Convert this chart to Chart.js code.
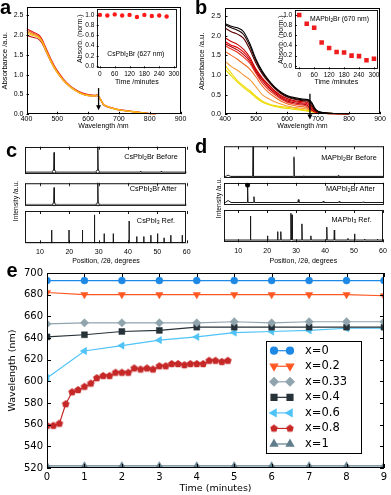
<!DOCTYPE html>
<html>
<head>
<meta charset="utf-8">
<script src="https://cdn.jsdelivr.net/npm/chart.js@4.4.1/dist/chart.umd.min.js"></script>
<style>
  html, body { margin: 0; padding: 0; background: #fff; }
  body { position: relative; width: 391px; height: 495px; overflow: hidden; font-family: "Liberation Sans", Arial, sans-serif; }
  .t { position: absolute; white-space: nowrap; line-height: 1; color: #000; }
  .t sub { font-size: 70%; vertical-align: -0.25em; line-height: 0; }
  .rot { transform: translate(-50%, -50%) rotate(-90deg); }
  .big { font-weight: bold; }
  canvas { position: absolute; }
</style>
</head>
<body>
<script>
// ---------------- data ----------------

// a : CsPbI2Br absorbance (a.u.) vs wavelength (nm)
const wlA = [400, 420, 440, 450, 460, 470, 480, 490, 500, 520, 540, 560, 580, 600, 620, 630, 640, 650, 660, 680, 700, 720, 750, 780, 800, 820];
const absA1 = [2.16, 2.08, 2.00, 1.90, 1.73, 1.55, 1.38, 1.23, 1.10, 0.89, 0.73, 0.62, 0.54, 0.50, 0.48, 0.49, 0.39, 0.26, 0.21, 0.16, 0.12, 0.10, 0.07, 0.04, 0.02, 0.00];
const absA2 = [2.12, 2.05, 1.97, 1.87, 1.70, 1.52, 1.36, 1.21, 1.08, 0.87, 0.72, 0.61, 0.53, 0.49, 0.47, 0.48, 0.38, 0.25, 0.20, 0.15, 0.12, 0.09, 0.06, 0.04, 0.02, 0.00];
const absA3 = [2.08, 2.02, 1.95, 1.85, 1.68, 1.50, 1.34, 1.19, 1.06, 0.86, 0.71, 0.60, 0.52, 0.48, 0.46, 0.48, 0.38, 0.25, 0.20, 0.15, 0.12, 0.09, 0.06, 0.04, 0.02, 0.00];
const absA4 = [2.05, 1.99, 1.93, 1.83, 1.66, 1.48, 1.32, 1.17, 1.05, 0.85, 0.70, 0.59, 0.51, 0.47, 0.46, 0.48, 0.38, 0.25, 0.20, 0.15, 0.11, 0.09, 0.06, 0.03, 0.01, 0.00];
const absA5 = [1.99, 1.94, 1.89, 1.80, 1.64, 1.47, 1.31, 1.17, 1.05, 0.85, 0.70, 0.59, 0.51, 0.47, 0.46, 0.47, 0.37, 0.24, 0.19, 0.15, 0.11, 0.09, 0.06, 0.03, 0.01, 0.00];
// drawn first = on top
const absA = [absA4, absA3, absA2, absA1, absA5];
const colA = ['#f9c21a', '#f7941d', '#f15a22', '#e3161d', '#c8101a'];

// a inset : normalised absorbance at 627 nm vs time (min)
const timeA = [0, 30, 60, 90, 120, 150, 180, 210, 240, 270];
const normA = [1.00, 0.99, 1.01, 0.99, 1.00, 0.96, 1.00, 0.98, 0.99, 0.97];

// b : MAPbI2Br absorbance
const wlB = [400, 420, 440, 460, 480, 500, 520, 540, 560, 580, 600, 620, 640, 660, 670, 680, 690, 700, 720, 750, 800];
const absB1  = [2.31, 2.24, 2.20, 2.10, 1.80, 1.40, 1.10, 0.88, 0.70, 0.57, 0.48, 0.43, 0.40, 0.38, 0.37, 0.30, 0.15, 0.08, 0.04, 0.02, 0.00];
const absB2  = [2.28, 2.20, 2.14, 2.03, 1.74, 1.36, 1.07, 0.86, 0.68, 0.55, 0.46, 0.41, 0.38, 0.36, 0.35, 0.27, 0.13, 0.07, 0.04, 0.02, 0.00];
const absB3  = [2.20, 2.10, 2.04, 1.93, 1.65, 1.30, 1.03, 0.83, 0.66, 0.53, 0.44, 0.39, 0.36, 0.34, 0.32, 0.22, 0.10, 0.06, 0.03, 0.01, 0.00];
const absB4  = [1.95, 1.85, 1.78, 1.65, 1.45, 1.15, 0.93, 0.76, 0.60, 0.48, 0.40, 0.35, 0.33, 0.31, 0.28, 0.18, 0.09, 0.05, 0.03, 0.01, 0.00];
const absB5  = [1.85, 1.76, 1.70, 1.58, 1.40, 1.12, 0.90, 0.72, 0.57, 0.45, 0.37, 0.33, 0.30, 0.28, 0.24, 0.15, 0.08, 0.05, 0.03, 0.01, 0.00];
const absB6  = [1.80, 1.72, 1.64, 1.52, 1.35, 1.08, 0.86, 0.68, 0.54, 0.42, 0.34, 0.30, 0.27, 0.25, 0.20, 0.12, 0.07, 0.05, 0.02, 0.01, 0.00];
const absB7  = [1.75, 1.66, 1.58, 1.45, 1.30, 1.04, 0.80, 0.63, 0.50, 0.39, 0.31, 0.27, 0.24, 0.22, 0.17, 0.10, 0.06, 0.04, 0.02, 0.01, 0.00];
const absB8  = [1.60, 1.50, 1.40, 1.28, 1.15, 0.95, 0.72, 0.56, 0.44, 0.34, 0.27, 0.23, 0.20, 0.18, 0.14, 0.09, 0.06, 0.04, 0.02, 0.01, 0.00];
const absB9  = [1.35, 1.22, 1.12, 1.00, 0.88, 0.70, 0.50, 0.40, 0.32, 0.26, 0.21, 0.18, 0.16, 0.14, 0.12, 0.08, 0.05, 0.04, 0.02, 0.01, 0.00];
const absB10 = [1.25, 1.05, 0.86, 0.72, 0.60, 0.46, 0.34, 0.27, 0.22, 0.20, 0.18, 0.16, 0.13, 0.11, 0.09, 0.07, 0.06, 0.05, 0.03, 0.02, 0.00];
const absB11 = [1.15, 0.98, 0.82, 0.68, 0.56, 0.42, 0.31, 0.25, 0.20, 0.17, 0.15, 0.13, 0.11, 0.09, 0.08, 0.06, 0.05, 0.04, 0.03, 0.02, 0.00];
const absB = [absB1, absB2, absB3, absB4, absB5, absB6, absB7, absB8, absB9, absB10, absB11];
const colB = ['#000000', '#1a0000', '#5a0000', '#c40000', '#e00000', '#b00010', '#f0301a', '#f06a22', '#f59a3a', '#f5d800', '#e8e000'];

// b inset : normalised absorbance at 670 nm vs time (min)
const timeB = [0, 30, 60, 90, 120, 150, 180, 210, 240, 270, 300];
const normB = [1.00, 0.83, 0.75, 0.46, 0.35, 0.27, 0.26, 0.20, 0.19, 0.11, 0.14];

// c : XRD CsPbI2Br (2theta, relative intensity within each strip)
const cBeforePos = [14.8, 29.7, 44.2, 51.3];
const cBeforeH   = [0.78, 1.05, 0.07, 0.07];
const cAfterPos  = [14.8, 29.7];
const cAfterH    = [0.80, 1.05];
const cRefPos = [14.0, 19.9, 24.5, 28.6, 31.9, 35.0, 40.4, 43.0, 45.4, 47.8, 50.1, 52.3, 54.6, 58.5];
const cRefH   = [0.41, 0.41, 0.41, 0.88, 0.30, 0.30, 0.69, 0.21, 0.21, 0.25, 0.30, 0.17, 0.25, 0.25];

// d : XRD MAPbI2Br
const dBeforePos = [6.5, 15.1, 29.2, 32.5, 44.5];
const dBeforeH   = [0.09, 1.05, 0.66, 0.07, 0.08];
const dBeforeW   = [0.9, 0.15, 0.15, 0.15, 0.15];
const dAfterPos = [6.5, 13.2, 15.4, 30.7, 39.3, 44.8, 53.1];
const dAfterH   = [0.21, 0.90, 0.38, 0.25, 0.18, 0.17, 0.15];
const dAfterW   = [1.0, 0.15, 0.15, 0.2, 0.2, 0.2, 0.2];
const dRefPos = [14.2, 20.1, 23.6, 24.7, 28.2, 28.6, 32.0, 35.1, 40.6, 43.2, 47.9, 50.2, 53.7, 58.1];
const dRefH   = [0.81, 0.20, 0.33, 0.33, 0.90, 0.85, 0.57, 0.20, 0.47, 0.38, 0.12, 0.26, 0.10, 0.10];

// e : peak wavelength (nm) vs time (minutes)
const tMin = [0, 1, 2, 3, 4, 5, 6, 7, 8, 9];
const tMin08 = [0, 0.17, 0.33, 0.5, 0.67, 0.83, 1, 1.17, 1.33, 1.5, 1.67, 1.83, 2, 2.17, 2.33, 2.5, 2.67, 2.83, 3, 3.17, 3.33, 3.5, 3.67, 3.83, 4, 4.17, 4.33, 4.5, 4.67, 4.83];
const wlX0   = [693, 693, 693, 693, 693, 693, 693, 693, 693, 693];
const wlX02  = [682, 680, 680, 680, 680, 680, 680, 680, 680, 679];
const wlX033 = [653, 654, 654, 654, 654, 655, 654, 655, 655, 655];
const wlX04  = [641, 643, 646, 647, 650, 650, 650, 650, 650, 650];
const wlX06  = [603, 628, 633, 638, 641, 645, 646, 647, 649, 649];
const wlX08  = [559, 559, 561, 579, 590, 592, 595, 598, 603, 605, 605, 608, 608, 608, 612, 611, 612, 611, 614, 614, 616, 616, 615, 616, 616, 616, 619, 619, 618, 619];
const wlX1   = [522, 522, 522, 522, 522, 522, 522, 522, 522, 522];
const seriesE = ['x=0', 'x=0.2', 'x=0.33', 'x=0.4', 'x=0.6', 'x=0.8', 'x=1'];

// ---------------- helpers ----------------
const FONT = '"Liberation Sans", Arial, sans-serif';
const MPL = '"DejaVu Sans", sans-serif';
Chart.defaults.animation = false;
Chart.defaults.color = '#000';
Chart.defaults.font.family = FONT;
Chart.defaults.plugins.legend.display = false;
Chart.defaults.plugins.tooltip.enabled = false;

function pentagon(color, r) {
  const c = document.createElement('canvas');
  const s = Math.ceil(2 * r + 2);
  c.width = c.height = s;
  const g = c.getContext('2d');
  g.fillStyle = color;
  g.beginPath();
  for (let i = 0; i < 5; i++) {
    const a = -Math.PI / 2 + i * 2 * Math.PI / 5;
    g.lineTo(s / 2 + r * Math.cos(a), s / 2 + r * Math.sin(a));
  }
  g.closePath();
  g.fill();
  return c;
}

// frame + inward ticks
const frameTicks = {
  id: 'frameTicks',
  afterDatasetsDraw(chart, args, o) {
    if (!o || !o.on) return;
    const { ctx, chartArea: a } = chart;
    const sx = chart.scales.x, sy = chart.scales.y;
    ctx.save();
    ctx.strokeStyle = o.color || '#000';
    ctx.lineWidth = o.lw || 1;
    ctx.strokeRect(Math.round(a.left) + 0.5, Math.round(a.top) + 0.5, Math.round(a.right - a.left) - 1, Math.round(a.bottom - a.top) - 1);
    const L = o.len || 3;
    ctx.beginPath();
    sx.ticks.forEach(t => {
      const p = Math.round(sx.getPixelForValue(t.value)) + 0.5;
      if ((o.x || '').includes('b')) { ctx.moveTo(p, a.bottom); ctx.lineTo(p, a.bottom - L); }
      if ((o.x || '').includes('t')) { ctx.moveTo(p, a.top); ctx.lineTo(p, a.top + L); }
    });
    sy.ticks.forEach(t => {
      const p = Math.round(sy.getPixelForValue(t.value)) + 0.5;
      if ((o.y || '').includes('l')) { ctx.moveTo(a.left, p); ctx.lineTo(a.left + L, p); }
      if ((o.y || '').includes('r')) { ctx.moveTo(a.right, p); ctx.lineTo(a.right - L, p); }
    });
    ctx.stroke();
    ctx.restore();
  }
};

const bgFill = {
  id: 'bgFill',
  beforeDatasetsDraw(chart, args, o) {
    if (!o || !o.on) return;
    const { ctx, chartArea: a } = chart;
    ctx.save();
    ctx.fillStyle = '#fff';
    ctx.fillRect(a.left, a.top, a.right - a.left, a.bottom - a.top);
    ctx.restore();
  }
};

const arrow = {
  id: 'arrow',
  afterDatasetsDraw(chart, args, o) {
    if (!o || o.x == null) return;
    const { ctx } = chart;
    const px = chart.scales.x.getPixelForValue(o.x);
    const y1 = chart.scales.y.getPixelForValue(o.from);
    const y2 = chart.scales.y.getPixelForValue(o.to);
    ctx.save();
    ctx.strokeStyle = '#000'; ctx.fillStyle = '#000'; ctx.lineWidth = 1.3;
    ctx.beginPath(); ctx.moveTo(px, y1); ctx.lineTo(px, y2 - 4); ctx.stroke();
    ctx.beginPath(); ctx.moveTo(px - 2.5, y2 - 5); ctx.lineTo(px + 2.5, y2 - 5); ctx.lineTo(px, y2); ctx.closePath(); ctx.fill();
    ctx.restore();
  }
};

const boxLegend = {
  id: 'boxLegend',
  afterDraw(chart, args, o) {
    if (!o || !o.rect) return;
    const { ctx } = chart;
    const [x0, y0, w, h] = o.rect;
    ctx.save();
    ctx.fillStyle = '#fff';
    ctx.fillRect(x0, y0, w, h);
    ctx.strokeStyle = '#000'; ctx.lineWidth = 1;
    ctx.strokeRect(x0 + 0.5, y0 + 0.5, w, h);
    chart.data.datasets.forEach((ds, i) => {
      const y = o.firstY + i * o.rowH;
      ctx.strokeStyle = ds.borderColor; ctx.lineWidth = ds.borderWidth;
      ctx.beginPath(); ctx.moveTo(o.m1, y); ctx.lineTo(o.m2, y); ctx.stroke();
      ctx.fillStyle = ds.pointBackgroundColor; ctx.strokeStyle = ds.pointBorderColor;
      [o.m1, o.m2].forEach(mx => Chart.helpers.drawPoint(ctx, {
        pointStyle: ds.pointStyle, rotation: ds.pointRotation || 0, radius: ds.pointRadius, borderWidth: 1
      }, mx, y));
      ctx.fillStyle = '#000';
      ctx.font = o.font;
      ctx.textBaseline = 'middle';
      ctx.fillText(ds.label, o.tx, y);
    });
    ctx.restore();
  }
};
Chart.register(frameTicks, bgFill, arrow, boxLegend);

function lin(o) {
  return {
    type: 'linear', min: o.min, max: o.max,
    grid: { display: false, drawTicks: false },
    border: { display: false },
    ticks: {
      display: o.show !== false, stepSize: o.step, includeBounds: false, autoSkip: false, maxRotation: 0,
      padding: o.pad || 0, color: '#000',
      font: { size: o.size || 7, family: o.family || FONT },
      callback: o.fmt || (v => v)
    },
    title: {
      display: !!o.title, text: o.title || '', color: '#000',
      font: { size: o.tsize || o.size || 7, family: o.family || FONT },
      padding: { top: o.tpad || 0, bottom: o.tpad || 0 }
    }
  };
}

// box: canvas [left, top, width, height]; plot: plot area [L, T, R, B] in page pixels
function makeChart(box, plot, cfg) {
  const cv = document.createElement('canvas');
  cv.width = box[2]; cv.height = box[3];
  cv.style.left = box[0] + 'px'; cv.style.top = box[1] + 'px';
  cv.style.width = box[2] + 'px'; cv.style.height = box[3] + 'px';
  document.body.appendChild(cv);
  const yw = plot[0] - box[0], xh = box[1] + box[3] - plot[3];
  cfg.options.responsive = false;
  cfg.options.devicePixelRatio = 1;
  cfg.options.layout = { padding: { top: plot[1] - box[1], right: box[0] + box[2] - plot[2], left: 0, bottom: 0 } };
  cfg.options.scales.x.afterFit = s => { s.height = xh; };
  cfg.options.scales.y.afterFit = s => { s.width = yw; };
  return new Chart(cv, cfg);
}

function xy(xs, ys) { return xs.map((x, i) => ({ x: x, y: ys[i] })); }

// diffraction pattern as a line through baseline and peak tips
function pattern(pos, h, base, w) {
  const pts = [{ x: 5, y: base }];
  pos.forEach((p, i) => {
    const hw = Array.isArray(w) ? w[i] : w;
    pts.push({ x: p - hw, y: base }, { x: p, y: h[i] }, { x: p + hw, y: base });
  });
  pts.push({ x: 60, y: base });
  return pts;
}

function text(html, x, cy, size, opt) {
  const d = document.createElement('div');
  d.className = 't' + (opt && opt.cls ? ' ' + opt.cls : '');
  d.innerHTML = html;
  d.style.fontSize = size + 'px';
  if (opt && opt.rot) {
    d.style.left = x + 'px'; d.style.top = cy + 'px';
  } else {
    d.style.top = (cy - 0.52 * size) + 'px';
    if (opt && opt.right) d.style.right = (391 - x) + 'px'; else d.style.left = x + 'px';
  }
  document.body.appendChild(d);
}

const one = v => v.toFixed(1);

// ---------------- panel a ----------------
makeChart([0, 0, 195, 135], [26.5, 7, 180.5, 114.3], {
  type: 'line',
  data: { datasets: absA.map((ys, i) => ({ data: xy(wlA, ys), borderColor: colA[i], borderWidth: 1.1, pointRadius: 0, cubicInterpolationMode: 'monotone' })) },
  options: {
    scales: {
      x: lin({ min: 400, max: 900, step: 100, pad: 0.5, title: 'Wavelength /nm', tpad: 4.8 }),
      y: lin({ min: 0, max: 2.7, step: 0.5, pad: 3, fmt: one, title: 'Absorbance /a.u.', tsize: 7.6, tpad: 0.5 })
    },
    plugins: { frameTicks: { on: true, x: 'b', y: 'l', len: 2.5, lw: 1 }, arrow: { x: 634, from: 0.66, to: 0.1 } }
  }
});
makeChart([72, 0, 113, 88], [96.7, 9.3, 177, 68.3], {
  type: 'scatter',
  data: { datasets: [{ data: xy(timeA, normA), pointStyle: 'circle', pointRadius: 2.2, pointBackgroundColor: '#ff1a1a', pointBorderWidth: 0 }] },
  options: {
    scales: {
      x: lin({ min: -13, max: 312, step: 60, size: 6.5, pad: 1.8, title: 'Time /minutes', tsize: 7, tpad: 1.8 }),
      y: lin({ min: -0.045, max: 1.11, step: 0.2, size: 6.5, pad: 2.4, fmt: one, title: 'Absorb. (norm.)', tsize: 7, tpad: 4.2 })
    },
    plugins: { bgFill: { on: true }, frameTicks: { on: true, x: 'b', y: 'l', len: 2, lw: 0.9 } }
  }
});

// ---------------- panel b ----------------
makeChart([195, 0, 196, 135], [225, 7, 380, 114.3], {
  type: 'line',
  data: { datasets: absB.map((ys, i) => ({ data: xy(wlB, ys), borderColor: colB[i], borderWidth: 1.1, pointRadius: 0, cubicInterpolationMode: 'monotone' })) },
  options: {
    scales: {
      x: lin({ min: 400, max: 900, step: 100, pad: 0.5, title: 'Wavelength /nm', tpad: 4.8 }),
      y: lin({ min: 0, max: 2.7, step: 0.5, pad: 4, fmt: one, title: 'Absorbance /a.u.', tsize: 7.6, tpad: 2.8 })
    },
    plugins: { frameTicks: { on: true, x: 'b', y: 'l', len: 2.5, lw: 1 }, arrow: { x: 674, from: 0.52, to: -0.13 } }
  }
});
makeChart([272, 0, 115, 88], [295, 10, 377.7, 69.3], {
  type: 'scatter',
  data: { datasets: [{ data: xy(timeB, normB), pointStyle: 'rect', pointRadius: 3.2, pointBackgroundColor: '#ee1c1c', pointBorderWidth: 0 }] },
  options: {
    scales: {
      x: lin({ min: -17, max: 315, step: 60, size: 6.5, pad: 1.8, title: 'Time /minutes', tsize: 7, tpad: 1.8 }),
      y: lin({ min: -0.07, max: 1.10, step: 0.2, size: 6.5, pad: 2.8, fmt: one, title: 'Absorb. (norm.)', tsize: 7, tpad: 4.8 })
    },
    plugins: { bgFill: { on: true }, frameTicks: { on: true, x: 'b', y: 'l', len: 2, lw: 0.9 } }
  }
});

// ---------------- panels c and d (stacked strips) ----------------
function strip(box, plot, pts, marks, last) {
  const ds = [{ data: pts, borderColor: '#1a1a1a', borderWidth: 1, pointRadius: 0, tension: 0 }];
  if (marks) ds.unshift({ data: marks, showLine: false, pointRadius: marks.r, pointBackgroundColor: marks.fill, pointBorderColor: '#000', pointBorderWidth: 0.8 });
  return makeChart(box, plot, {
    type: 'line',
    data: { datasets: ds },
    options: {
      scales: {
        x: lin({ min: 5, max: 60, step: 10, show: !!last, pad: 4.2, title: last ? 'Position, /2θ, degrees' : '', tpad: 2.8 }),
        y: lin({ min: 0, max: 1, step: 1, show: false })
      },
      plugins: { frameTicks: { on: true, x: last ? 'tb' : 't', y: '', len: 3, lw: 0.9 } }
    }
  });
}
function markers(xs, ys, r, fill) { const m = xy(xs, ys); m.r = r; m.fill = fill; return m; }

strip([0, 140, 195, 38.3], [25.3, 146.7, 186.7, 178.3], pattern(cBeforePos, cBeforeH, 0.04, 0.15), markers([14.8, 29.7], [0.06, 0.06], 1.6, '#fff'));
strip([0, 178.3, 195, 32.7], [25.3, 178.3, 186.7, 211], pattern(cAfterPos, cAfterH, 0.05, 0.15), markers([14.8, 29.7], [0.07, 0.07], 1.6, '#fff'));
strip([0, 211, 195, 57], [25.3, 211, 186.7, 243.3], pattern(cRefPos, cRefH, 0, 0), null, true);

strip([195, 140, 196, 37.7], [223.8, 146, 383.3, 177.7], pattern(dBeforePos, dBeforeH, 0.05, dBeforeW));
strip([195, 177.7, 196, 32.3], [223.8, 177.7, 383.3, 210], pattern(dAfterPos, dAfterH, 0.12, dAfterW), markers([13.2], [0.9], 2.2, '#000'));
strip([195, 210, 196, 58], [223.8, 210, 383.3, 242.3], pattern(dRefPos, dRefH, 0.07, 0.12), null, true);

// ---------------- panel e ----------------
const eStyle = [
  { c: '#1E88E5', ps: 'circle', r: 3.5, rot: 0 },
  { c: '#FF5722', ps: 'triangle', r: 4.2, rot: 180 },
  { c: '#90A4AE', ps: 'rectRot', r: 4.2, rot: 0 },
  { c: '#263238', ps: 'rect', r: 4.2, rot: 0 },
  { c: '#4FC3F7', ps: 'triangle', r: 4.2, rot: -90 },
  { c: '#C62828', ps: pentagon('#C62828', 4), r: 4, rot: 0 },
  { c: '#607D8B', ps: 'triangle', r: 4.2, rot: 0 }
];
const eData = [xy(tMin, wlX0), xy(tMin, wlX02), xy(tMin, wlX033), xy(tMin, wlX04), xy(tMin, wlX06), xy(tMin08, wlX08), xy(tMin, wlX1)];

makeChart([0, 262, 391, 233], [47, 273, 384, 468], {
  type: 'line',
  data: {
    datasets: eData.map((d, i) => ({
      label: seriesE[i], data: d, borderColor: eStyle[i].c, borderWidth: 1.2, tension: 0,
      pointStyle: eStyle[i].ps, pointRotation: eStyle[i].rot, pointRadius: eStyle[i].r,
      pointBackgroundColor: eStyle[i].c, pointBorderColor: eStyle[i].c, pointBorderWidth: 0.5
    }))
  },
  options: {
    scales: {
      x: lin({ min: 0, max: 9, step: 1, size: 10, family: MPL, pad: 3, title: 'Time (minutes)', tsize: 9.5, tpad: 0.3 }),
      y: lin({ min: 520, max: 700, step: 20, size: 10, family: MPL, pad: 4, title: 'Wavelength (nm)', tsize: 9.5, tpad: 7.3 })
    },
    plugins: {
      frameTicks: { on: true, x: 'tb', y: 'lr', len: 4, lw: 1 },
      boxLegend: { rect: [266, 79, 95, 112], firstY: 88.7, rowH: 15.55, m1: 274, m2: 290, tx: 305, font: '11.5px ' + MPL }
    }
  }
});

// ---------------- text ----------------
text('a', 0, 7, 20, { cls: 'big' });
text('b', 195, 7, 20, { cls: 'big' });
text('c', 6, 150, 20, { cls: 'big' });
text('d', 195, 146, 20, { cls: 'big' });
text('e', 6.5, 270, 20, { cls: 'big' });

text('CsPbI<sub>2</sub>Br (627 nm)', 107.3, 55, 6.8);
text('MAPbI<sub>2</sub>Br (670 nm)', 310, 19.3, 6.8);

text('CsPbI<sub>2</sub>Br Before', 177.7, 156.7, 7.3, { right: true });
text('CsPbI<sub>2</sub>Br After', 176.7, 189, 7.3, { right: true });
text('CsPbI<sub>3</sub> Ref.', 175, 220.7, 7.3, { right: true });
text('MAPbI<sub>2</sub>Br Before', 376.7, 157.7, 7.3, { right: true });
text('MAPbI<sub>2</sub>Br After', 375, 188.3, 7.3, { right: true });
text('MAPbI<sub>3</sub> Ref.', 371.7, 220, 7.3, { right: true });

text('Intensity /a.u.', 16, 200.8, 6.8, { rot: true, cls: 'rot' });
text('Intensity /a.u.', 219, 197.5, 6.8, { rot: true, cls: 'rot' });
</script>
</body>
</html>
